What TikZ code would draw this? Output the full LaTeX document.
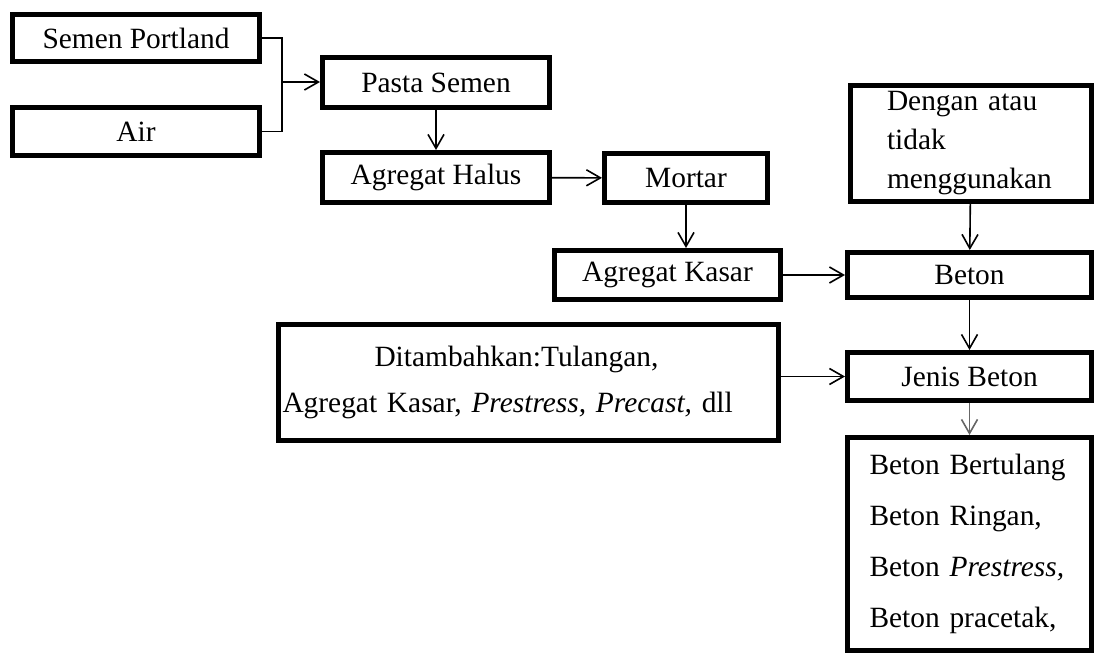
\documentclass[tikz,border=0pt]{standalone}
\usepackage{fontspec}
\setmainfont{Liberation Serif}
\usepackage{tikz}
\usetikzlibrary{arrows.meta}

\begin{document}
\begin{tikzpicture}[x=0.5pt,y=-0.5pt,
        box/.style={draw, line width=2.5pt, inner sep=2pt, font=\fontsize{14.7}{19.3}\selectfont},
        arr/.style={-{Straight Barb[length=7pt,width=8pt]}, line width=0.8pt}]
        \useasboundingbox (0,0) rectangle (1097,664);
        \node[box, minimum width=123.5pt, minimum height=23.5pt] (semen) at (136,38) {Semen Portland};
        \node[box, minimum width=123.5pt, minimum height=24pt] (air) at (136,131.5) {Air};
        \node[box, minimum width=113.5pt, minimum height=25pt] (pasta) at (436,82.5) {Pasta Semen};
        \node[box, minimum width=113.5pt, minimum height=25pt] (halus) at (436,177.5) {Agregat Halus};
        \node[box, minimum width=81.5pt, minimum height=24.5pt] (mortar) at (686,178) {Mortar};
        \node[box, minimum width=120.5pt, minimum height=58pt, text width=84pt, align=left] (dengan) at (971,143) {Dengan atau\\tidak\\menggunakan};
        \node[box, minimum width=113pt, minimum height=24.5pt] (kasar) at (667.5,275) {Agregat Kasar};
        \node[box, minimum width=122pt, minimum height=22.5pt] (beton) at (969.5,275) {Beton};
        \node[box, minimum width=250pt, minimum height=58pt, text width=246pt, align=left, font=\fontsize{14.7}{23}\selectfont] (tambah) at (528.5,382) {\hspace*{46pt}Ditambahkan:Tulangan,\\Agregat Kasar, \textit{Prestress, Precast,} dll};
        \node[box, minimum width=122pt, minimum height=24pt] (jenis) at (969.5,376.5) {Jenis Beton};
        \node[box, minimum width=122pt, minimum height=106.5pt, text width=100pt, align=left, font=\fontsize{14.7}{25.5}\selectfont] (macam) at (969.5,544) {Beton Bertulang\\Beton Ringan,\\Beton \textit{Prestress,}\\Beton pracetak,};

        \coordinate (gabung) at (282,82);
        \draw[line width=0.8pt] (semen.east) -| (gabung) |- (air.east);
        \draw[arr] (gabung) -- (gabung -| pasta.west);
        \draw[arr] (pasta) -- (halus);
        \draw[arr] (halus) -- (mortar);
        \draw[arr] (mortar.south) -- (mortar.south |- kasar.north);
        \draw[arr] (kasar) -- (beton);
        \draw[arr] (dengan) -- (beton);
        \draw[arr] (beton) -- (jenis);
        \draw[arr] (jenis.west -| tambah.east) -- (jenis.west);
        \draw[arr, black!60] (jenis) -- (macam);
    \end{tikzpicture}
\end{document}
